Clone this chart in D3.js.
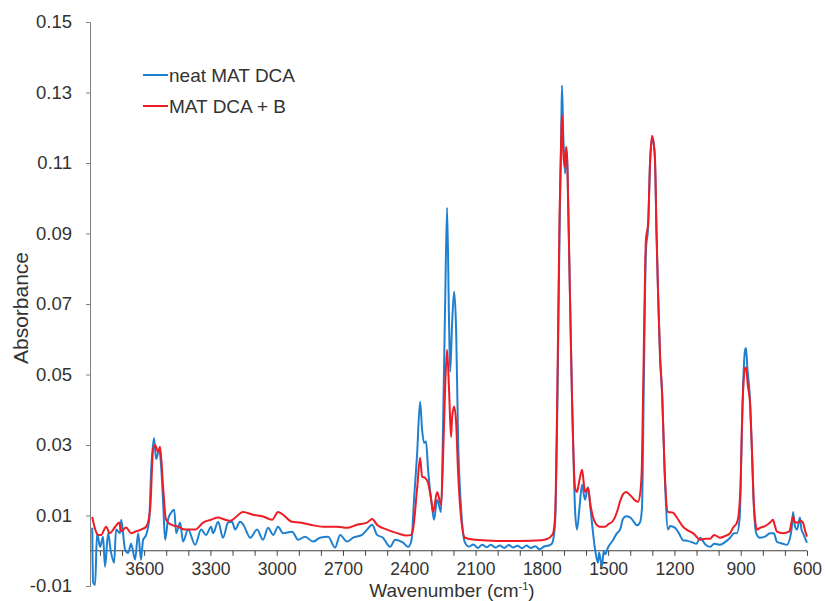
<!DOCTYPE html>
<html>
<head>
<meta charset="utf-8">
<script src="https://cdn.jsdelivr.net/npm/d3@7"></script>
<style>
  body { margin: 0; background: #fff; }
  svg text { font-family: "Liberation Sans", Arial, sans-serif; fill: #333; }
</style>
</head>
<body>
<svg width="825" height="601"></svg>
<script>
var neatWn = [3835,3831,3822,3813,3799,3786,3777,3763,3752,3736,3727,3709,3704,3686,3672,3659,3641,3627,3614,3605,3591,3577,3568,3555,3546,3532,3523,3514,3505,3492,3478,3464,3455,3437,3424,3401,3369,3342,3320,3297,3288,3265,3243,3220,3202,3188,3166,3152,3120,3089,3062,3039,3016,2994,2971,2930,2903,2872,2835,2804,2767,2736,2713,2682,2654,2614,2591,2568,2546,2519,2487,2464,2428,2405,2390,2378,2365,2351,2342,2333,2324,2315,2297,2288,2274,2256,2247,2238,2229,2220,2215,2206,2197,2188,2179,2166,2148,2130,2110,2090,2070,2050,2030,2010,1990,1970,1950,1930,1910,1890,1870,1850,1830,1810,1790,1770,1755,1749,1740,1730,1720,1712,1709,1703,1695,1690,1686,1681,1672,1663,1655,1650,1641,1630,1618,1605,1591,1580,1570,1559,1546,1541,1528,1520,1514,1500,1478,1460,1446,1433,1419,1401,1387,1369,1356,1347,1338,1329,1319,1310,1301,1295,1288,1281,1274,1265,1256,1243,1229,1220,1197,1180,1161,1140,1116,1100,1084,1060,1039,1020,994,970,948,930,917,905,896,890,880,876,870,858,849,840,830,813,790,767,750,736,709,691,670,663,655,645,632,625,618,605,600];
var neatAbs = [0.0065,-0.009,-0.0097,0.005,0.0011,0.004,-0.0045,0.005,0.0003,-0.0034,0.006,0.005,0.0088,0.0003,-0.0006,0.002,-0.0025,0.005,-0.0025,0.003,0.0045,0.0088,0.023,0.032,0.026,0.0287,0.024,0.0136,0.0031,0.0088,0.0108,0.0116,0.005,0.008,0.0026,0.006,0.0017,0.006,0.0045,0.0068,0.005,0.0082,0.0037,0.008,0.0082,0.006,0.0082,0.0075,0.0037,0.006,0.0031,0.0065,0.0045,0.0068,0.005,0.0054,0.0031,0.004,0.0026,0.0037,0.004,0.0009,0.0045,0.0026,0.0037,0.0045,0.006,0.0074,0.0045,0.0037,0.0011,0.0031,0.0023,0.0011,0.003,0.015,0.027,0.0423,0.0343,0.0306,0.031,0.023,0.0125,0.0088,0.0145,0.011,0.036,0.069,0.0973,0.0647,0.0508,0.0647,0.0735,0.0627,0.0315,0.0125,0.0023,0.0012,0.0018,0.0008,0.0017,0.001,0.0017,0.0009,0.0015,0.0008,0.0016,0.0009,0.0014,0.0007,0.0015,0.0008,0.0013,0.0004,0.0012,0.0015,0.002,0.003,0.008,0.04,0.09,0.12,0.132,0.118,0.107,0.113,0.113,0.099,0.07,0.042,0.022,0.012,0.006,0.012,0.0187,0.0145,0.018,0.012,0.006,0.0003,-0.0034,-0.0005,-0.0045,0.0,-0.001,0.001,0.003,0.005,0.006,0.009,0.0098,0.0095,0.0085,0.0072,0.008,0.012,0.05,0.085,0.092,0.11,0.117,0.116,0.111,0.09,0.073,0.055,0.045,0.02,0.006,0.007,0.0065,0.005,0.003,0.0028,0.0023,0.002,0.0037,0.0018,0.0011,0.002,0.0017,0.0025,0.0037,0.005,0.005,0.009,0.03,0.045,0.057,0.0575,0.052,0.043,0.028,0.012,0.005,0.0037,0.004,0.005,0.005,0.0025,0.002,0.0017,0.006,0.011,0.007,0.006,0.0094,0.006,0.005,0.003,0.0023];

var mixWn = [3835,3808,3795,3772,3756,3731,3713,3704,3682,3659,3641,3614,3591,3573,3559,3550,3537,3528,3514,3501,3478,3446,3415,3369,3333,3297,3265,3243,3211,3152,3107,3062,3021,2994,2971,2930,2894,2849,2790,2727,2682,2636,2591,2568,2546,2501,2455,2410,2392,2383,2365,2351,2342,2329,2315,2301,2292,2274,2256,2247,2238,2229,2220,2211,2206,2197,2188,2179,2166,2148,2102,2000,1900,1800,1770,1760,1749,1740,1730,1720,1712,1709,1703,1697,1690,1686,1681,1672,1663,1650,1641,1630,1618,1610,1605,1591,1580,1559,1537,1514,1500,1478,1460,1446,1433,1419,1401,1378,1365,1352,1347,1338,1329,1319,1310,1301,1295,1288,1281,1274,1265,1256,1243,1229,1206,1190,1161,1140,1116,1100,1084,1060,1039,1020,994,970,948,935,917,910,900,894,887,880,876,868,858,849,842,835,826,813,790,767,754,745,736,709,680,663,655,641,630,618,610,600];
var mixAbs = [0.0096,0.0045,0.0045,0.0068,0.005,0.0068,0.008,0.0055,0.0066,0.005,0.0054,0.006,0.0068,0.0116,0.029,0.030,0.028,0.0295,0.018,0.0088,0.0074,0.0068,0.006,0.006,0.008,0.0088,0.0094,0.009,0.0085,0.011,0.0102,0.0097,0.0088,0.011,0.0102,0.0082,0.008,0.0074,0.0068,0.0068,0.0065,0.0074,0.008,0.009,0.0074,0.006,0.005,0.0043,0.0045,0.006,0.0173,0.0264,0.021,0.0207,0.0193,0.0145,0.011,0.0167,0.013,0.0267,0.0457,0.057,0.0457,0.0323,0.038,0.0409,0.0363,0.022,0.0097,0.0037,0.0031,0.0028,0.0028,0.003,0.0035,0.004,0.005,0.01,0.045,0.095,0.118,0.1237,0.113,0.109,0.1146,0.112,0.099,0.07,0.042,0.018,0.0167,0.02,0.023,0.019,0.0167,0.0178,0.013,0.008,0.0068,0.0068,0.0075,0.0085,0.011,0.014,0.016,0.0167,0.0158,0.0143,0.0139,0.018,0.025,0.06,0.0882,0.093,0.111,0.1177,0.116,0.111,0.09,0.073,0.055,0.045,0.021,0.011,0.0108,0.0095,0.0068,0.0058,0.005,0.004,0.0031,0.0034,0.0034,0.0045,0.0037,0.0042,0.005,0.0065,0.008,0.01,0.02,0.037,0.048,0.052,0.052,0.047,0.042,0.028,0.015,0.0088,0.006,0.0065,0.007,0.008,0.0088,0.007,0.0054,0.005,0.0055,0.0097,0.008,0.008,0.0085,0.008,0.006,0.004];

var seriesNames = ["neat MAT DCA", "MAT DCA + B"];
var seriesColors = ["#1f80d0", "#ee1c25"];
var xTickLabels = [3600, 3300, 3000, 2700, 2400, 2100, 1800, 1500, 1200, 900, 600];
var yTickLabels = [-0.01, 0.01, 0.03, 0.05, 0.07, 0.09, 0.11, 0.13, 0.15];

var svg = d3.select("svg");
var x = d3.scaleLinear().domain([3845, 600]).range([90, 807]);
var y = d3.scaleLinear().domain([-0.01, 0.15]).range([586, 22]);

// y axis (plain hyphen for the minus sign, like the original)
var yAxis = d3.axisLeft(y).tickValues(yTickLabels).tickSize(4).tickPadding(14)
    .tickFormat(d => d.toFixed(2));
var gy = svg.append("g").attr("transform", "translate(90,0)").call(yAxis);
gy.select(".domain").attr("stroke", "#808080");
gy.selectAll(".tick line").attr("stroke", "#808080");
gy.selectAll("text").attr("font-size", 18.5).attr("fill", "#333");

// x axis drawn along the zero line, minor ticks every 100
var xAxis = d3.axisBottom(x).tickValues(d3.range(600, 3801, 100)).tickSize(5)
    .tickSizeOuter(0).tickFormat(d => xTickLabels.indexOf(d) >= 0 ? d : "").tickPadding(7);
var gx = svg.append("g").attr("transform", "translate(0," + y(0) + ")").call(xAxis);
gx.select(".domain").attr("stroke", "#404040").attr("d", "M90,0H807");
gx.selectAll(".tick line").attr("stroke", "#404040");
gx.selectAll("text").attr("font-size", 17.5).attr("fill", "#333");

// spectra
var line = d3.line().x(d => x(d[0])).y(d => y(d[1])).curve(d3.curveMonotoneX);
var neat = neatWn.map((w, i) => [w, neatAbs[i]]);
var mix = mixWn.map((w, i) => [w, mixAbs[i]]);
[neat, mix].forEach(function(data, i) {
    svg.append("path").datum(data)
        .attr("fill", "none")
        .attr("stroke", seriesColors[i])
        .attr("stroke-width", 2)
        .attr("stroke-linejoin", "round")
        .attr("d", line);
});

// axis titles
svg.append("text").attr("x", 452).attr("y", 597).attr("text-anchor", "middle")
    .attr("font-size", 19).attr("fill", "#333")
    .html('Wavenumber (cm<tspan dy="-7" font-size="11">-1</tspan><tspan dy="7">)</tspan>');
svg.append("text").attr("transform", "translate(28,308) rotate(-90)")
    .attr("text-anchor", "middle").attr("font-size", 21).attr("fill", "#333")
    .text("Absorbance");

// legend
var legend = svg.append("g");
seriesNames.forEach(function(name, i) {
    var ly = 75 + i * 31;
    legend.append("line").attr("x1", 143).attr("x2", 168).attr("y1", ly).attr("y2", ly)
        .attr("stroke", seriesColors[i]).attr("stroke-width", 2);
    legend.append("text").attr("x", 169).attr("y", ly + 6.5).attr("font-size", 19)
        .attr("fill", "#222").text(name);
});
</script>
</body>
</html>
